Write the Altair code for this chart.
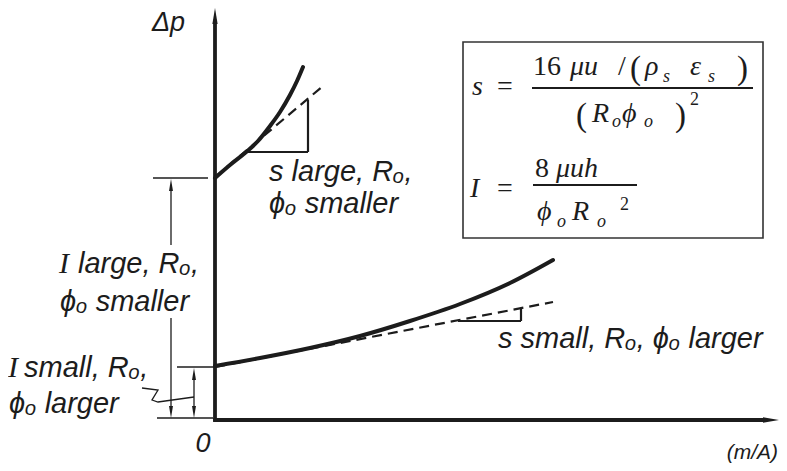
import altair as alt
import pandas as pd

# ---------------- data (schematic units) ----------------
upper_x = [0.00, 0.15, 0.30, 0.43, 0.55, 0.65, 0.75, 0.82, 0.88]
upper_y = [2.42, 2.55, 2.67, 2.79, 2.94, 3.08, 3.25, 3.39, 3.53]
lower_x = [0.00, 0.45, 0.95, 1.45, 1.95, 2.45, 2.95, 3.38]
lower_y = [0.54, 0.62, 0.72, 0.84, 0.99, 1.16, 1.37, 1.60]
upper_tan_x = [0.00, 1.08]
upper_tan_y = [2.43, 3.34]
lower_tan_x = [0.00, 3.38]
lower_tan_y = [0.53, 1.18]

XDOM = [-2.07, 5.64]
YDOM = [-0.43, 4.12]
INK = "#1c1c1c"

X = alt.X("x:Q", scale=alt.Scale(domain=XDOM, nice=False, zero=False), axis=None)
Y = alt.Y("y:Q", scale=alt.Scale(domain=YDOM, nice=False, zero=False), axis=None)

curves = pd.DataFrame(
    {"x": upper_x + lower_x, "y": upper_y + lower_y,
     "s": ["up"] * len(upper_x) + ["low"] * len(lower_x),
     "o": list(range(len(upper_x))) + list(range(len(lower_x)))})
tangents = pd.DataFrame(
    {"x": upper_tan_x + lower_tan_x, "y": upper_tan_y + lower_tan_y,
     "s": ["up", "up", "low", "low"], "o": [0, 1, 0, 1]})

curve_layer = alt.Chart(curves).mark_line(color=INK, strokeWidth=4, strokeCap="round",
                                          interpolate="monotone").encode(
    x=X, y=Y, detail="s:N", order="o:Q")
tan_layer = alt.Chart(tangents).mark_line(color=INK, strokeWidth=2.2, strokeDash=[10, 6]).encode(
    x=X, y=Y, detail="s:N", order="o:Q")

# slope triangles
tri = pd.DataFrame({"x": [0.33, 0.93, 2.43, 3.06], "y": [2.68, 2.68, 0.99, 0.99],
                    "x2": [0.93, 0.93, 3.06, 3.06], "y2": [2.68, 3.20, 0.99, 1.12]})
tri_layer = alt.Chart(tri).mark_rule(color=INK, strokeWidth=2.2).encode(
    x=X, y=Y, x2="x2:Q", y2="y2:Q")

# axes
axes = pd.DataFrame({"x": [0.0, -0.018], "y": [-0.018, 0.0], "x2": [0.0, 5.50], "y2": [4.00, 0.0]})
axes_layer = alt.Chart(axes).mark_rule(color=INK, strokeWidth=3.8).encode(
    x=X, y=Y, x2="x2:Q", y2="y2:Q")

# thin dimension lines
dims = pd.DataFrame({
    "x":  [-0.62, -0.44, -0.44, -0.58, -0.38, -0.21],
    "y":  [2.42, 2.30, 1.02, 0.02, 0.53, 0.45],
    "x2": [-0.07, -0.44, -0.44, -0.02, 0.00, -0.21],
    "y2": [2.42, 1.75, 0.10, 0.02, 0.53, 0.10]})
dims_layer = alt.Chart(dims).mark_rule(color=INK, strokeWidth=1.3).encode(
    x=X, y=Y, x2="x2:Q", y2="y2:Q")

squiggle = pd.DataFrame({"x": [-0.73, -0.57, -0.63, -0.57, -0.21],
                         "y": [0.32, 0.30, 0.20, 0.18, 0.23], "o": [0, 1, 2, 3, 4]})
squig_layer = alt.Chart(squiggle).mark_line(color=INK, strokeWidth=1.3).encode(
    x=X, y=Y, order="o:Q")

# arrow heads
ARROW = "M0,-1L0.33,1L-0.33,1Z"
heads = pd.DataFrame({
    "x": [0.0, 5.56, -0.44, -0.44, -0.21, -0.21],
    "y": [4.04, 0.0, 2.35, 0.08, 0.46, 0.08],
    "a": [0, 90, 0, 180, 0, 180],
    "sz": [256, 256, 144, 144, 144, 144]})
heads_layer = alt.Chart(heads).mark_point(shape=ARROW, filled=True, color=INK, opacity=1,
                                          strokeWidth=0).encode(
    x=X, y=Y, angle=alt.Angle("a:Q", scale=None), size=alt.Size("sz:Q", scale=None))

# ---------------- text ----------------
def text_layer(rows, font, style, size, align="left", weight="normal"):
    df = pd.DataFrame(rows, columns=["t", "x", "y"])
    return alt.Chart(df).mark_text(font=font, fontStyle=style, fontSize=size, align=align,
                                   baseline="alphabetic", color=INK, fontWeight=weight).encode(
        x=X, y=Y, text="t:N")

SANS = "Liberation Sans"
SERIF = "Liberation Serif"

labels = text_layer([
    ("large, R\u2092,", -1.37, 1.47),
    ("\u03d5\u2092 smaller", -1.55, 1.09),
    ("small, R\u2092,", -1.91, 0.43),
    ("\u03d5\u2092 larger", -2.06, 0.07),
    ("s large, R\u2092,", 0.54, 2.39),
    ("\u03d5\u2092 smaller", 0.54, 2.07),
    ("s small, R\u2092, \u03d5\u2092 larger", 2.83, 0.72),
], SANS, "italic", 29)
dp = text_layer([("\u0394p", -0.63, 3.89)], SANS, "italic", 27)
zero = text_layer([("0", -0.12, -0.32)], SANS, "italic", 27, align="center")
unit = text_layer([("(m/A)", 5.63, -0.39)], SANS, "italic", 21, align="right")
label_I = text_layer([("I", -1.56, 1.47), ("I", -2.07, 0.43)], SERIF, "italic", 30)

# formula box
box = pd.DataFrame({"x": [2.48], "x2": [5.48], "y": [1.82], "y2": [3.78]})
box_layer = alt.Chart(box).mark_rect(fill="white", stroke="#333333", strokeWidth=1.6).encode(
    x=X, y=Y, x2="x2:Q", y2="y2:Q")
bars = pd.DataFrame({"x": [3.17, 3.18], "x2": [5.38, 4.22], "y": [3.32, 2.35], "y2": [3.32, 2.35]})
bars_layer = alt.Chart(bars).mark_rule(color=INK, strokeWidth=2.0).encode(
    x=X, y=Y, x2="x2:Q", y2="y2:Q")

f_it = text_layer([
    ("s", 2.57, 3.25), ("\u03bcu", 3.55, 3.45), ("\u03c1", 4.30, 3.45), ("\u03b5", 4.75, 3.45),
    ("R", 3.77, 2.98), ("\u03d5", 4.07, 2.98),
    ("I", 2.55, 2.23), ("\u03bcuh", 3.41, 2.43), ("\u03d5", 3.22, 2.00), ("R", 3.57, 2.00),
], SERIF, "italic", 28)
f_up = text_layer([
    ("=", 2.82, 3.25), ("16", 3.18, 3.45), ("/", 4.03, 3.45),
    ("=", 2.82, 2.23), ("8", 3.20, 2.43),
], SERIF, "normal", 28)
f_par = text_layer([
    ("(", 4.15, 3.41), (")", 5.22, 3.41), ("(", 3.61, 2.94), (")", 4.60, 2.94),
], SERIF, "normal", 33)
f_sub = text_layer([
    ("s", 4.48, 3.38), ("s", 4.93, 3.38), ("o", 3.97, 2.93), ("o", 4.29, 2.93),
    ("o", 3.42, 1.93), ("o", 3.82, 1.93),
], SERIF, "italic", 18)
f_sup = text_layer([("2", 4.75, 3.15), ("2", 4.05, 2.10)], SERIF, "normal", 18)

chart = alt.layer(
    box_layer, bars_layer, axes_layer, dims_layer, squig_layer, tri_layer, tan_layer, curve_layer,
    heads_layer, labels, dp, zero, unit, label_I, f_it, f_up, f_par, f_sub, f_sup,
).properties(
    width=771, height=455, padding=0, autosize=alt.AutoSizeParams(type="none"),
    background="white",
).configure_view(stroke=None)

chart.save("out.html", embed_options={"renderer": "svg", "actions": False})
